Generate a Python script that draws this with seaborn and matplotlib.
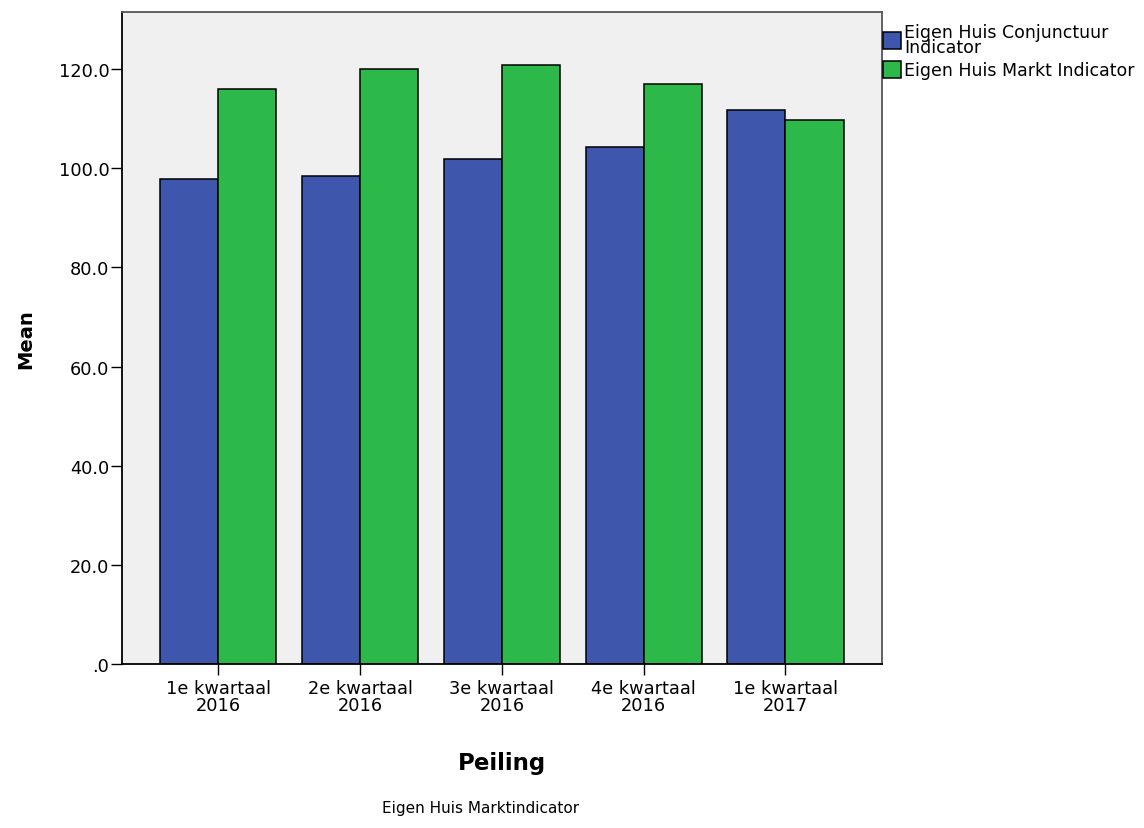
import matplotlib
matplotlib.use("Agg")
import matplotlib.pyplot as plt
import seaborn as sns
import pandas as pd

categories = ["1e kwartaal\n2016", "2e kwartaal\n2016", "3e kwartaal\n2016",
              "4e kwartaal\n2016", "1e kwartaal\n2017"]
series_names = ["Eigen Huis Conjunctuur\nIndicator", "Eigen Huis Markt Indicator"]
conjunctuur = [97.8, 98.4, 101.9, 104.3, 111.7]
markt = [116.0, 120.0, 120.8, 117.0, 109.7]
yticks = [0, 20, 40, 60, 80, 100, 120]
ytick_labels = [".0", "20.0", "40.0", "60.0", "80.0", "100.0", "120.0"]

df = pd.DataFrame({
    "Peiling": categories * 2,
    "Mean": conjunctuur + markt,
    "Serie": [series_names[0]] * 5 + [series_names[1]] * 5,
})

sns.set_style("white")
plt.rcParams["font.family"] = ["DejaVu Sans"]
plt.rcParams["text.color"] = "black"
plt.rcParams["axes.labelcolor"] = "black"
plt.rcParams["xtick.color"] = "black"
plt.rcParams["ytick.color"] = "black"

fig = plt.figure(figsize=(11.44, 8.29), dpi=100)
ax = fig.add_axes([0.1066, 0.1978, 0.6643, 0.7865])
ax.set_facecolor("#F0F0F0")

sns.barplot(data=df, x="Peiling", y="Mean", hue="Serie", order=categories,
            hue_order=series_names, palette=["#3E56AC", "#2DB84A"],
            width=0.82, gap=0, edgecolor="black", linewidth=1.1,
            errorbar=None, ax=ax, saturation=1)

ax.set_xlim(-0.68, 4.68)
ax.set_ylim(0, 131.5)
ax.set_yticks(yticks)
ax.set_yticklabels(ytick_labels, fontsize=12.8)
ax.tick_params(axis="x", labelsize=12.8, length=8, width=1.0, pad=3,
               direction="out", bottom=True)
ax.tick_params(axis="y", length=8, width=1.0, pad=1, direction="out", left=True)
for t in ax.get_xticklabels():
    t.set_linespacing(0.9)

ax.set_ylabel("Mean", fontsize=14, fontweight="bold", labelpad=17)
ax.set_xlabel("Peiling", fontsize=16.5, fontweight="bold", labelpad=27)

for side in ["left", "bottom"]:
    ax.spines[side].set_color("black")
    ax.spines[side].set_linewidth(1.3)
for side in ["top", "right"]:
    ax.spines[side].set_color("#555555")
    ax.spines[side].set_linewidth(1.3)

leg = ax.legend(loc="upper left", bbox_to_anchor=(1.0, 0.985), frameon=False,
                fontsize=12.5, handlelength=1.05, handleheight=1.1,
                handletextpad=0.2, borderaxespad=0.0, labelspacing=0.3,
                borderpad=0.05)
for h in leg.legend_handles:
    h.set_edgecolor("black")
for t in leg.get_texts():
    t.set_linespacing(0.8)

fig.text(0.42, 0.025, "Eigen Huis Marktindicator", ha="center", va="center",
         fontsize=11)

fig.savefig("out.png", dpi=100)
